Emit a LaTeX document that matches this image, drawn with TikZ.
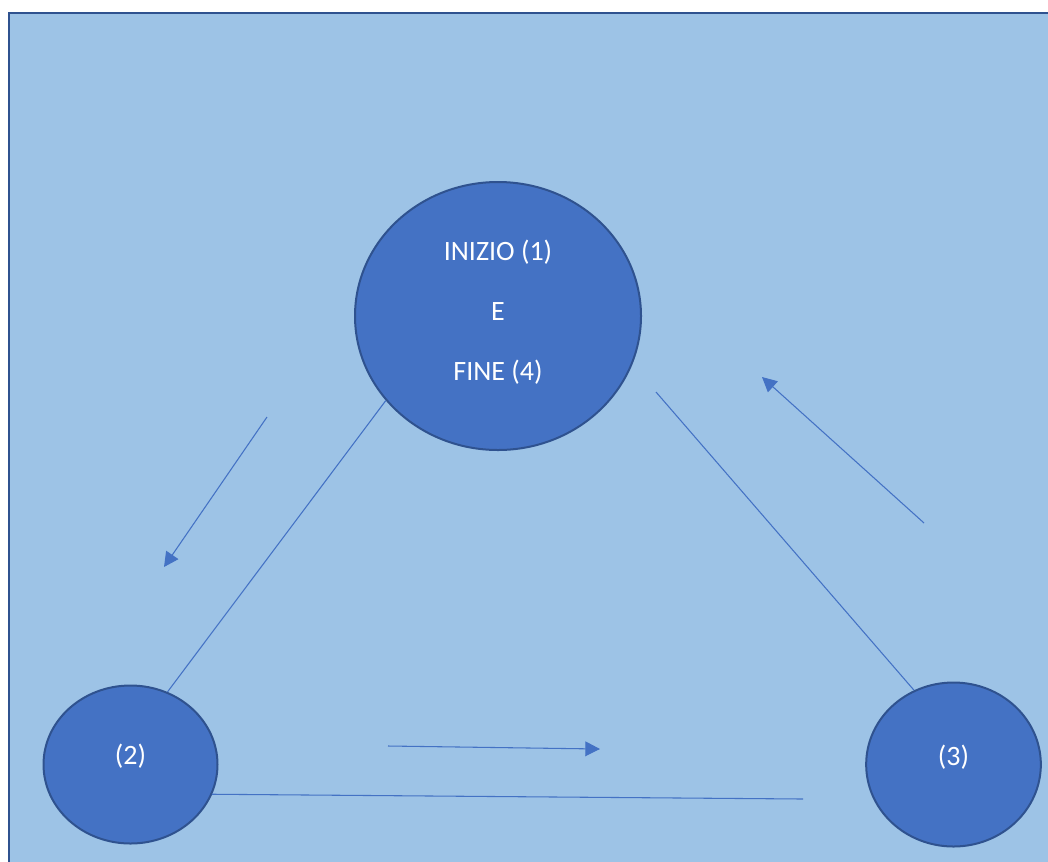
\documentclass[tikz,border=0pt]{standalone}
\usepackage{fontspec}
\setmainfont{Carlito}
\usetikzlibrary{positioning,shapes.geometric,arrows.meta}
\definecolor{sfondo}{HTML}{9DC3E6}
\definecolor{riempi}{HTML}{4472C4}
\definecolor{bordo}{HTML}{2F528F}

\begin{document}
\begin{tikzpicture}[x=0.75pt,y=-0.75pt,
    statonode/.style={ellipse, draw=bordo, fill=riempi, line width=1.5pt, inner sep=0pt},
    testo/.style={text=white, font=\fontsize{21}{45}\selectfont, align=center},
    linea/.style={draw=riempi, line width=0.8pt},
    freccia/.style={draw=riempi, line width=0.8pt, -{Triangle[length=11pt,width=11pt]}},]
    \useasboundingbox (0,0) rectangle (1048,861);
    \clip (0,0) rectangle (1048,861);
    % background
    \draw[bordo, line width=1.5pt, fill=sfondo] (8.5,13) rectangle (1070,890);
    % nodes
    \node[statonode, minimum width=214.5pt, minimum height=201pt,
          label={[testo, yshift=2.5pt]center:INIZIO (1)\\E\\FINE (4)}] (inizio) at (498,316) {};
    \node[statonode, minimum width=130.5pt, minimum height=118.5pt,
          label={[testo, yshift=6pt]center:(2)}] (due) at (130.5,764.5) {};
    \node[statonode, minimum width=131pt, minimum height=123pt,
          label={[testo, yshift=5.5pt]center:(3)}] (tre) [right=485pt of due] {};
    % free ends
    \coordinate (lineaTre)  at (656,392);
    \coordinate (lineaFine) at (803,799);
    \coordinate (f1a) at (267,417);
    \coordinate (f1b) at (164,567);
    \coordinate (f2a) at (388,746);
    \coordinate (f2b) at (600,749);
    \coordinate (f3a) at (924,523);
    \coordinate (f3b) at (762,377);
    % lines
    \draw[linea] (inizio.217.8) -- (due.63.9);
    \draw[linea] (lineaTre) -- (tre.118.5);
    \draw[linea] (due.-20) -- (lineaFine);
    % arrows
    \draw[freccia] (f1a) -- (f1b);
    \draw[freccia] (f2a) -- (f2b);
    \draw[freccia] (f3a) -- (f3b);
\end{tikzpicture}
\end{document}
